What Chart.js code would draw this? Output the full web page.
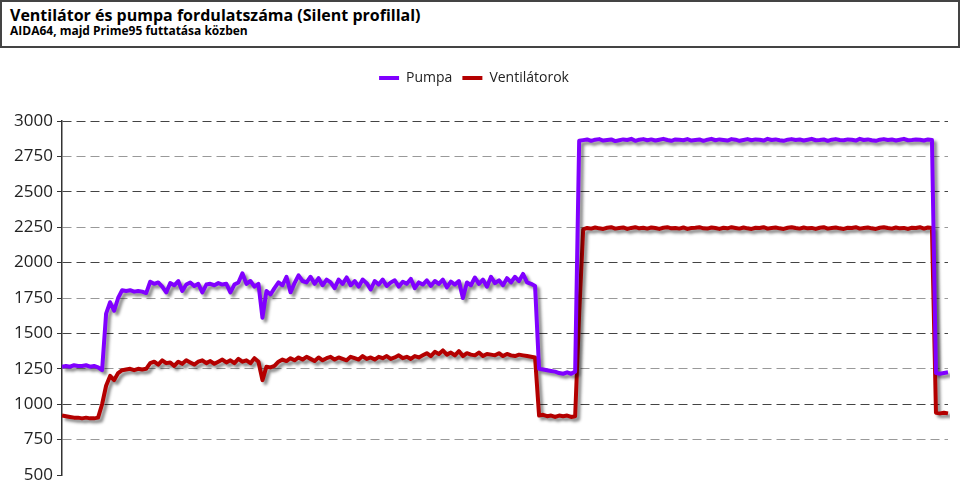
<!DOCTYPE html>
<html lang="hu">
<head>
    <meta charset="UTF-8">
    <title>Ventilátor és pumpa fordulatszáma</title>
    <style>
        body { margin: 0; background: #fff; font-family: "Open Sans", sans-serif; }
        .wrap { position: relative; width: 960px; height: 500px; }
        .head {
            position: absolute; left: 0; top: 0; width: 960px; height: 48px;
            box-sizing: border-box; border: 2px solid #444; background: #fff;
        }
        .head h1 {
            position: absolute; left: 8px; top: 4px; margin: 0;
            font-size: 16px; line-height: 18px; font-weight: 700; color: #000;
        }
        .head h2 {
            position: absolute; left: 8px; top: 22px; margin: 0;
            font-size: 12px; line-height: 14px; font-weight: 700; color: #000;
        }
        canvas { position: absolute; left: 0; top: 0; }
    </style>
</head>
<body>
<div class="wrap">
    <canvas id="myChart" width="960" height="500"></canvas>
    <div class="head">
        <h1>Ventilátor és pumpa fordulatszáma (Silent profillal)</h1>
        <h2>AIDA64, majd Prime95 futtatása közben</h2>
    </div>
</div>

<script src="https://cdn.jsdelivr.net/npm/chart.js@4.4.1/dist/chart.umd.min.js"></script>
<script>
    // pump rpm, one reading per sample
    var pumpa = [
        1265,1270,1265,1275,1270,1270,1275,1265,1270,1260,
        1240,1640,1720,1660,1750,1805,1800,1805,1795,1800,
        1795,1785,1865,1850,1860,1830,1790,1855,1840,1870,
        1800,1845,1860,1835,1850,1790,1845,1850,1840,1855,
        1845,1850,1790,1845,1860,1925,1850,1870,1830,1850,
        1610,1800,1775,1820,1860,1840,1900,1790,1855,1910,
        1870,1860,1900,1850,1890,1840,1880,1860,1820,1880,
        1850,1895,1840,1870,1830,1880,1855,1810,1870,1845,
        1880,1835,1860,1875,1830,1865,1850,1885,1820,1860,
        1845,1875,1835,1870,1850,1880,1825,1865,1845,1870,
        1750,1860,1840,1895,1850,1880,1830,1900,1855,1875,
        1840,1890,1860,1900,1870,1920,1860,1850,1835,1250,
        1245,1240,1235,1230,1220,1215,1225,1215,1230,2860,
        2865,2870,2860,2868,2872,2862,2866,2870,2858,2864,
        2870,2866,2874,2860,2868,2872,2864,2870,2862,2868,
        2874,2866,2860,2870,2868,2864,2872,2862,2866,2870,
        2860,2868,2874,2864,2870,2866,2862,2872,2868,2860,
        2866,2872,2864,2870,2868,2862,2874,2866,2870,2864,
        2860,2868,2872,2866,2870,2862,2868,2874,2864,2866,
        2870,2860,2868,2872,2866,2864,2870,2868,2862,2874,
        2866,2870,2864,2860,2868,2872,2866,2870,2862,2868,
        2874,2864,2866,2870,2868,2862,2870,2866,
        1220,1215,1220,1225
    ];

    // fans rpm
    var ventilatorok = [
        920,915,910,905,905,900,905,900,900,905,
        1000,1130,1200,1170,1220,1240,1245,1250,1240,1250,
        1245,1250,1290,1300,1280,1310,1290,1295,1270,1300,
        1285,1310,1295,1280,1300,1310,1290,1305,1285,1300,
        1315,1295,1310,1290,1320,1300,1310,1290,1325,1300,
        1170,1265,1260,1270,1300,1315,1305,1325,1310,1330,
        1315,1335,1320,1305,1330,1310,1325,1335,1315,1330,
        1320,1310,1335,1325,1315,1340,1320,1330,1315,1335,
        1325,1340,1320,1330,1345,1325,1335,1320,1340,1330,
        1345,1360,1340,1370,1355,1380,1350,1365,1345,1375,
        1340,1360,1350,1345,1365,1340,1355,1350,1345,1360,
        1340,1355,1345,1340,1350,1345,1340,1335,1330,920,
        925,915,920,910,920,915,920,910,915,1640,
        2235,
        2245,2240,2248,2242,2238,2246,2250,2240,2244,2248,
        2238,2245,2250,2242,2246,2240,2248,2244,2238,2246,
        2250,2242,2245,2240,2248,2238,2244,2246,2250,2242,
        2240,2248,2244,2238,2246,2242,2250,2245,2240,2248,
        2242,2238,2246,2244,2250,2240,2245,2248,2242,2238,
        2246,2250,2244,2240,2248,2242,2245,2238,2246,2250,
        2240,2244,2248,2242,2238,2246,2245,2250,2240,2244,
        2248,2242,2238,2246,2250,2244,2240,2248,2242,2245,
        2238,2246,2244,2250,2240,2248,2245,
        940,935,940,935
    ];

    var seriesNames = ['Pumpa', 'Ventilátorok'];
    var seriesColors = ['#8000ff', '#b40000'];
    var yMin = 500, yMax = 3000, yStep = 250;

    var samples = pumpa.map(function (v, i) { return i; });

    // soft drop shadow under the lines, like the original
    var lineShadow = {
        id: 'lineShadow',
        beforeDatasetDraw: function (chart) {
            var c = chart.ctx;
            c.save();
            c.shadowColor = 'rgba(0,0,0,0.45)';
            c.shadowBlur = 3;
            c.shadowOffsetX = 3;
            c.shadowOffsetY = 3;
        },
        afterDatasetDraw: function (chart) {
            chart.ctx.restore();
        }
    };

    // extra room under the legend
    var legendGap = {
        id: 'legendGap',
        beforeInit: function (chart) {
            var origFit = chart.legend.fit;
            chart.legend.fit = function () {
                origFit.bind(chart.legend)();
                this.height += 26;
            };
        }
    };

    var ctx = document.getElementById('myChart').getContext('2d');
    var myChart = new Chart(ctx, {
        type: 'line',
        data: {
            labels: samples,
            datasets: [
                {
                    label: seriesNames[0],
                    data: pumpa,
                    borderColor: seriesColors[0],
                    backgroundColor: seriesColors[0],
                    borderWidth: 4,
                    pointRadius: 0,
                    pointStyle: 'line',
                    tension: 0,
                    borderJoinStyle: 'round'
                },
                {
                    label: seriesNames[1],
                    data: ventilatorok,
                    borderColor: seriesColors[1],
                    backgroundColor: seriesColors[1],
                    borderWidth: 4,
                    pointRadius: 0,
                    pointStyle: 'line',
                    tension: 0,
                    borderJoinStyle: 'round'
                }
            ]
        },
        options: {
            responsive: false,
            animation: false,
            layout: { padding: { left: 0, right: 12, top: 61, bottom: 25 } },
            plugins: {
                legend: {
                    position: 'top',
                    labels: {
                        usePointStyle: true,
                        pointStyleWidth: 20,
                        padding: 10,
                        color: '#222',
                        font: { family: 'Open Sans', size: 14 }
                    }
                },
                tooltip: { enabled: false }
            },
            scales: {
                x: { display: false },
                y: {
                    min: yMin,
                    max: yMax,
                    afterFit: function (scale) { scale.width = 62; },
                    ticks: {
                        stepSize: yStep,
                        padding: 4,
                        color: '#222',
                        font: { family: 'Open Sans', size: 17 },
                        callback: function (v) { return String(v); }
                    },
                    grid: {
                        tickLength: 5,
                        tickColor: '#333',
                        tickBorderDash: [],
                        color: function (c) {
                            if (c.tick.value === yMin) return 'rgba(0,0,0,0)';
                            return c.tick.value % 500 === 0 ? '#444' : '#999';
                        }
                    },
                    border: { color: '#333', width: 1.5, dash: [9, 5] }
                }
            }
        },
        plugins: [lineShadow, legendGap]
    });
</script>
</body>
</html>
